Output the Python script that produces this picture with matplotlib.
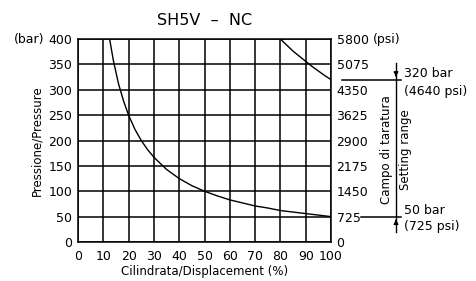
import matplotlib
matplotlib.use("Agg")
import matplotlib.pyplot as plt

# curve: displacement (%) vs pressure (bar)
disp_lo = [12.5, 14, 16, 18, 20, 22.5, 25, 27.5, 30, 35, 40, 45, 50, 55, 60, 65, 70, 75, 80, 85, 90, 95, 100]
pres_lo = [400, 357, 312, 278, 250, 222, 200, 182, 167, 143, 125, 111, 100, 91, 83, 77, 71, 67, 62, 59, 56, 53, 50]
disp_hi = [80, 82.5, 85, 87.5, 90, 92.5, 95, 97.5, 100]
pres_hi = [400, 388, 376, 366, 356, 346, 337, 328, 320]

bar_ticks = [0, 50, 100, 150, 200, 250, 300, 350, 400]
psi_labels = ["0", "725", "1450", "2175", "2900", "3625", "4350", "5075", "5800"]
x_ticks = [0, 10, 20, 30, 40, 50, 60, 70, 80, 90, 100]
range_hi = 320
range_lo = 50

plt.rcParams['font.family'] = 'DejaVu Sans'
fig = plt.figure(figsize=(4.76, 2.81), dpi=100)
ax = fig.add_axes([78/476, 1-242/281, 253/476, 203/281])

for x in x_ticks:
    ax.axvline(x, color='black', lw=1.1)
for y in bar_ticks:
    ax.axhline(y, color='black', lw=1.1)

ax.plot(disp_lo, pres_lo, color='black', lw=1.0)
ax.plot(disp_hi, pres_hi, color='black', lw=1.0)

ax.set_xlim(0, 100)
ax.set_ylim(0, 400)
ax.set_xticks(x_ticks)
ax.set_yticks(bar_ticks)
ax.tick_params(axis='y', length=0, labelsize=9, pad=4)
ax.tick_params(axis='x', length=0, labelsize=9, pad=6)
for s in ax.spines.values():
    s.set_linewidth(1.1)

ax2 = ax.twinx()
ax2.set_ylim(0, 400)
ax2.set_yticks(bar_ticks)
ax2.set_yticklabels(psi_labels)
ax2.tick_params(length=0, labelsize=9, pad=4)
for s in ax2.spines.values():
    s.set_visible(False)

ax.set_xlabel("Cilindrata/Displacement (%)", fontsize=8.5, labelpad=1)
ax.set_ylabel("Pressione/Pressure", fontsize=8.5, labelpad=4)
ax.set_title("SH5V  \u2013  NC", fontsize=11.5, pad=10)
ax.annotate("(bar)", xy=(0, 1), xycoords='axes fraction', xytext=(-24.5, 0),
            textcoords='offset points', ha='right', va='center', fontsize=9)
ax.annotate("(psi)", xy=(1, 1), xycoords='axes fraction', xytext=(30, 0),
            textcoords='offset points', ha='left', va='center', fontsize=9)

# setting range markers on the right
ax.plot([104.3, 127.5], [range_hi, range_hi], color='black', lw=1.1, clip_on=False)
ax.plot([112, 127.5], [range_lo, range_lo], color='black', lw=1.1, clip_on=False)
ax.plot([125.7, 125.7], [range_lo - 30, range_hi + 32], color='black', lw=1.0, clip_on=False)
ax.annotate("", xy=(125.7, range_hi), xytext=(125.7, range_hi + 14),
            arrowprops=dict(arrowstyle='-|>', color='black', lw=0.8, mutation_scale=7),
            annotation_clip=False)
ax.annotate("", xy=(125.7, range_lo), xytext=(125.7, range_lo - 14),
            arrowprops=dict(arrowstyle='-|>', color='black', lw=0.8, mutation_scale=7),
            annotation_clip=False)
ax.text(122, 183, "Campo di taratura", rotation=90,
        ha='center', va='center', fontsize=8.5, clip_on=False)
ax.text(129.5, 183, "Setting range", rotation=90,
        ha='center', va='center', fontsize=8.5, clip_on=False)
ax.text(129, range_hi + 12, "320 bar", ha='left', va='center', fontsize=9)
ax.text(129, range_hi - 24, "(4640 psi)", ha='left', va='center', fontsize=9)
ax.text(129, range_lo + 12, "50 bar", ha='left', va='center', fontsize=9)
ax.text(129, range_lo - 20, "(725 psi)", ha='left', va='center', fontsize=9)

fig.savefig("out.png", dpi=100)
